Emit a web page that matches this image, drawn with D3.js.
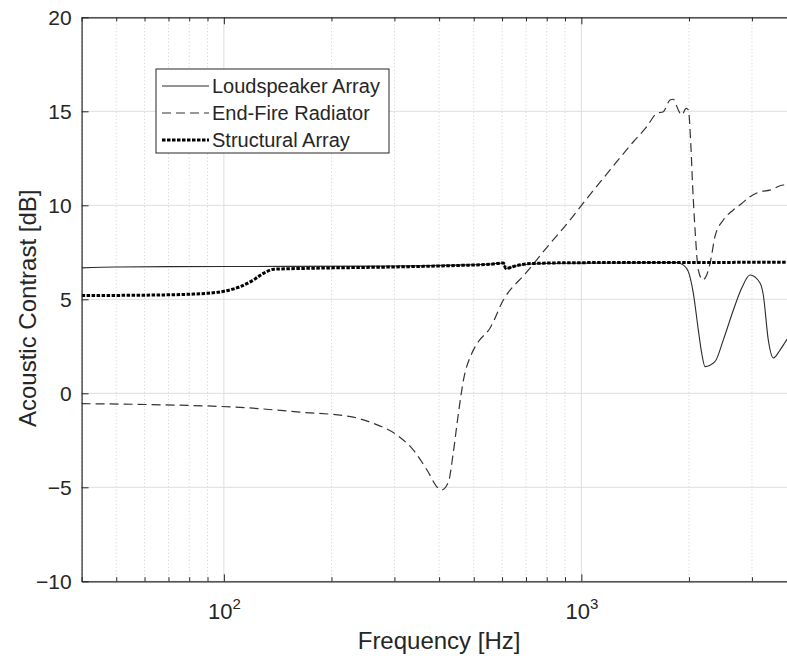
<!DOCTYPE html>
<html>
<head>
<meta charset="utf-8">
<script src="https://cdn.jsdelivr.net/npm/d3@7"></script>
<style>
  body { margin: 0; background: #fff; }
  text { font-family: "Liberation Sans", Arial, Helvetica, sans-serif; fill: #262626; }
</style>
</head>
<body>
<svg id="plot"></svg>
<script>
// Series data (frequency in Hz, contrast in dB)
var loudspeakerFreq = [40, 50, 70, 150, 300, 450, 560, 605, 615, 650, 720, 900, 1200, 1600, 1849, 1929, 1992, 2057, 2124, 2171, 2218, 2364, 2495, 2662, 2809, 2963, 3161, 3228, 3333, 3443, 3595, 3753, 4000];
var loudspeakerDb   = [6.67, 6.72, 6.74, 6.75, 6.77, 6.82, 6.88, 6.93, 6.64, 6.76, 6.88, 6.92, 6.93, 6.95, 6.95, 6.82, 6.47, 5.32, 3.37, 2.13, 1.42, 1.68, 2.84, 4.43, 5.6, 6.29, 5.87, 5.23, 2.84, 1.88, 2.3, 2.84, 3.5];

var endFireFreq = [40, 62, 118, 163, 226, 262, 305, 339, 370, 398, 407, 425, 438, 453, 468, 494, 515, 555, 605, 700, 800, 930, 1003, 1203, 1398, 1524, 1625, 1696, 1770, 1808, 1867, 1909, 1963, 1992, 2023, 2049, 2080, 2124, 2185, 2242, 2301, 2364, 2495, 2662, 2809, 2963, 3161, 3370, 3672, 4000];
var endFireDb   = [-0.55, -0.6, -0.78, -1.0, -1.24, -1.6, -2.22, -3.02, -4.08, -5.05, -5.14, -4.7, -3.19, -1.06, 0.71, 2.13, 2.74, 3.46, 4.96, 6.4, 7.75, 9.22, 10.02, 11.88, 13.38, 14.18, 14.89, 14.98, 15.6, 15.64, 15.07, 14.8, 15.16, 15.07, 13.3, 10.9, 8.69, 6.56, 6.03, 6.29, 7.09, 8.33, 9.22, 9.75, 10.1, 10.46, 10.72, 10.81, 11.08, 11.1];

var structuralFreq = [40, 60, 80, 90, 100, 111, 121, 129, 138, 175, 300, 450, 560, 605, 615, 650, 720, 1000, 2000, 4000];
var structuralDb   = [5.2, 5.22, 5.27, 5.32, 5.43, 5.67, 6.03, 6.38, 6.6, 6.65, 6.72, 6.8, 6.87, 6.93, 6.64, 6.76, 6.9, 6.95, 6.96, 6.97];

var seriesNames = ["Loudspeaker Array", "End-Fire Radiator", "Structural Array"];
var yTicks = [-10, -5, 0, 5, 10, 15, 20];
var xMajorTicks = [100, 1000];

var width = 787, height = 659;
var margin = {top: 17.3, right: -9.6, bottom: 77.7, left: 81.6};

var svg = d3.select('#plot')
  .attr('width', width)
  .attr('height', height);

var x = d3.scaleLog()
  .domain([40, 4000])
  .range([margin.left, width - margin.right]);

var y = d3.scaleLinear()
  .domain([-10, 20])
  .range([height - margin.bottom, margin.top]);

var x0 = x.range()[0], x1 = x.range()[1];
var y0 = y.range()[0], y1 = y.range()[1];

var xMinorTicks = x.ticks().filter(function(d) { return xMajorTicks.indexOf(d) < 0; });

svg.append('defs').append('clipPath').attr('id', 'clip')
  .append('rect')
  .attr('x', x0).attr('y', y1)
  .attr('width', x1 - x0).attr('height', y0 - y1);

// Minor grid (dotted)
svg.append('g').selectAll('line')
  .data(xMinorTicks)
  .enter().append('line')
    .attr('x1', d => x(d)).attr('x2', d => x(d))
    .attr('y1', y1).attr('y2', y0)
    .attr('stroke', '#cfcfcf')
    .attr('stroke-width', 1)
    .attr('stroke-dasharray', '1,2.5');

// Major grid
svg.append('g').selectAll('line')
  .data(xMajorTicks)
  .enter().append('line')
    .attr('x1', d => x(d)).attr('x2', d => x(d))
    .attr('y1', y1).attr('y2', y0)
    .attr('stroke', '#dedede');

svg.append('g').selectAll('line')
  .data(yTicks)
  .enter().append('line')
    .attr('x1', x0).attr('x2', x1)
    .attr('y1', d => y(d)).attr('y2', d => y(d))
    .attr('stroke', '#dedede');

// Lines
var line = d3.line()
  .x(d => x(d[0]))
  .y(d => y(d[1]))
  .curve(d3.curveMonotoneX);

var plotArea = svg.append('g').attr('clip-path', 'url(#clip)');

var styles = [
  {color: '#2b2b2b', width: 1.1, dash: null},
  {color: '#333333', width: 1.2, dash: '9,5'},
  {color: '#000000', width: 3, dash: '3.5,1.5'}
];

var series = [
  d3.zip(loudspeakerFreq, loudspeakerDb),
  d3.zip(endFireFreq, endFireDb),
  d3.zip(structuralFreq, structuralDb)
];

series.forEach(function(s, i) {
  plotArea.append('path')
    .datum(s)
    .attr('fill', 'none')
    .attr('stroke', styles[i].color)
    .attr('stroke-width', styles[i].width)
    .attr('stroke-dasharray', styles[i].dash)
    .attr('d', line);
});

// Axes (ticks inside, MATLAB style)
var axisColor = '#262626';

function styleAxis(g) {
  g.select('.domain').attr('stroke', axisColor).attr('stroke-width', 1.2);
  g.selectAll('.tick line').attr('stroke', axisColor);
}

// bottom major
var xAxis = svg.append('g')
  .attr('transform', 'translate(0,' + y0 + ')')
  .call(d3.axisBottom(x).tickValues(xMajorTicks).tickSizeInner(-7).tickSizeOuter(0).tickPadding(23)
    .tickFormat(''))
  .call(styleAxis);

xAxis.selectAll('.tick text')
  .attr('font-size', 22)
  .attr('fill', axisColor)
  .attr('dy', 0)
  .attr('y', 37.6)
  .each(function(d) {
    var t = d3.select(this);
    t.append('tspan').text('10');
    t.append('tspan').attr('font-size', 15).attr('dy', -10).text(Math.round(Math.log10(d)));
  });

// bottom minor
svg.append('g')
  .attr('transform', 'translate(0,' + y0 + ')')
  .call(d3.axisBottom(x).tickValues(xMinorTicks).tickSize(-4).tickFormat(''))
  .call(styleAxis)
  .select('.domain').remove();

// top
svg.append('g')
  .attr('transform', 'translate(0,' + y1 + ')')
  .call(d3.axisTop(x).tickValues(xMajorTicks).tickSizeInner(-7).tickSizeOuter(0).tickFormat(''))
  .call(styleAxis);

svg.append('g')
  .attr('transform', 'translate(0,' + y1 + ')')
  .call(d3.axisTop(x).tickValues(xMinorTicks).tickSize(-4).tickFormat(''))
  .call(styleAxis)
  .select('.domain').remove();

// left
var yAxis = svg.append('g')
  .attr('transform', 'translate(' + x0 + ',0)')
  .call(d3.axisLeft(y).tickValues(yTicks).tickSizeInner(-7).tickSizeOuter(0).tickPadding(10))
  .call(styleAxis);

yAxis.selectAll('.tick text')
  .attr('font-size', 21)
  .attr('fill', axisColor)
  .attr('font-family', '"Liberation Sans", Arial, sans-serif');

// Axis labels
svg.append('text')
  .attr('x', (x0 + x1) / 2)
  .attr('y', 649)
  .attr('text-anchor', 'middle')
  .style('font-size', '24px')
  .text('Frequency [Hz]');

svg.append('text')
  .attr('transform', 'translate(36,' + ((y0 + y1) / 2 + 9) + ') rotate(-90)')
  .attr('text-anchor', 'middle')
  .style('font-size', '24px')
  .text('Acoustic Contrast [dB]');

// Legend
var legend = svg.append('g').attr('transform', 'translate(156,69)');

legend.append('rect')
  .attr('width', 233)
  .attr('height', 84)
  .attr('fill', '#fff')
  .attr('stroke', axisColor)
  .attr('stroke-width', 1);

var item = legend.selectAll('.legend')
  .data(seriesNames)
  .enter().append('g')
  .attr('class', 'legend')
  .attr('transform', function(d, i) { return 'translate(0,' + (17 + i * 27) + ')'; });

item.append('line')
  .attr('x1', 6).attr('x2', 53)
  .attr('stroke', (d, i) => styles[i].color)
  .attr('stroke-width', (d, i) => styles[i].width)
  .attr('stroke-dasharray', (d, i) => styles[i].dash);

item.append('text')
  .attr('x', 56)
  .attr('dy', '0.35em')
  .style('font-size', '20px')
  .text(d => d);
</script>
</body>
</html>
